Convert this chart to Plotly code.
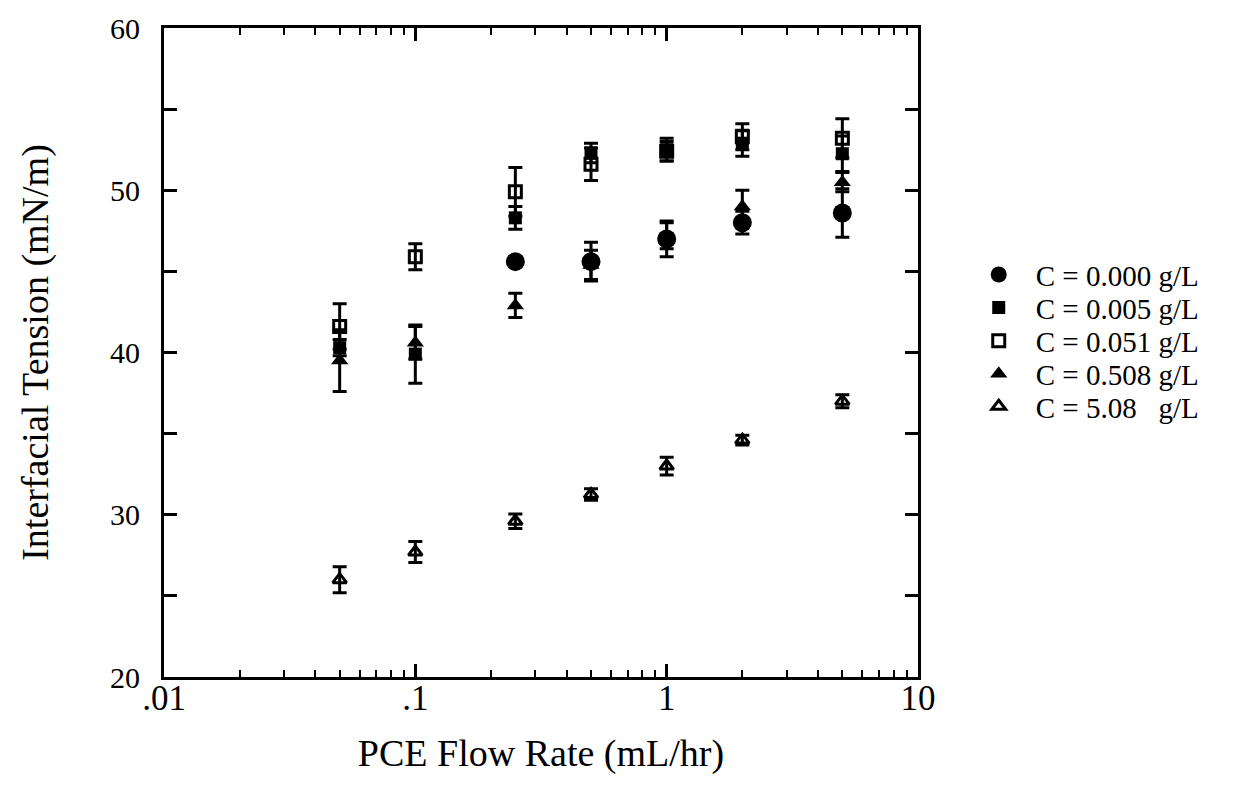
import plotly.graph_objects as go

# PCE flow rate (mL/hr)
flow = [0.05, 0.1, 0.25, 0.5, 1, 2, 5]
flow_c000 = [0.25, 0.5, 1, 2, 5]

# Interfacial tension (mN/m) and error (+/-)
it_c000 = [45.6, 45.6, 47.0, 48.0, 48.6]
err_c000 = [0.3, 1.2, 1.1, 0.7, 1.5]

it_c005 = [40.3, 39.9, 48.3, 52.3, 52.5, 52.9, 52.25]
err_c005 = [0.5, 1.8, 0.7, 0.6, 0.7, 0.8, 1.1]

it_c051 = [41.6, 45.9, 49.9, 51.6, 52.4, 53.3, 53.2]
err_c051 = [1.4, 0.8, 1.5, 1.0, 0.6, 0.8, 1.2]

it_c508 = [39.5, 40.6, 42.9, 45.4, 47.2, 49.0, 50.5]
err_c508 = [1.9, 1.0, 0.75, 0.9, 0.8, 1.0, 0.6]

it_c5080 = [26.0, 27.7, 29.6, 31.25, 33.0, 34.6, 37.0]
err_c5080 = [0.8, 0.65, 0.45, 0.35, 0.55, 0.3, 0.4]

labels = ["C = 0.000 g/L", "C = 0.005 g/L", "C = 0.051 g/L", "C = 0.508 g/L",
          "C = 5.08\u00a0\u00a0\u00a0g/L"]

x_tickvals = [0.01, 0.1, 1, 10]
x_ticktext = [".01", ".1", "1", "10"]
y_tickvals = [20, 30, 40, 50, 60]
y_ticktext = ["20", "30", "40", "50", "60"]

FONT = "Liberation Serif, Times New Roman, serif"


def err(vals):
    return dict(type="data", array=vals, visible=True, color="black",
                thickness=3, width=7)


fig = go.Figure()

fig.add_trace(go.Scatter(
    x=flow, y=it_c508, mode="markers", name=labels[3], legend="legend4",
    marker=dict(symbol="triangle-up", size=15, color="black"),
    error_y=err(err_c508)))

fig.add_trace(go.Scatter(
    x=flow, y=it_c005, mode="markers", name=labels[1], legend="legend2",
    marker=dict(symbol="square", size=13, color="black"),
    error_y=err(err_c005)))

fig.add_trace(go.Scatter(
    x=flow, y=it_c051, mode="markers", name=labels[2], legend="legend3",
    marker=dict(symbol="square-open", size=12, color="black",
                line=dict(width=3, color="black")),
    error_y=err(err_c051)))

fig.add_trace(go.Scatter(
    x=flow_c000, y=it_c000, mode="markers", name=labels[0], legend="legend",
    marker=dict(symbol="circle", size=19, color="black"),
    error_y=err(err_c000)))

fig.add_trace(go.Scatter(
    x=flow, y=it_c5080, mode="markers", name=labels[4], legend="legend5",
    marker=dict(symbol="triangle-up-open", size=12, color="black",
                line=dict(width=3, color="black")),
    error_y=err(err_c5080)))

minor_x = [m * 10 ** e for e in (-2, -1, 0) for m in range(2, 10)]

legend_rows_y = [0.620, 0.569, 0.518, 0.467, 0.417]
leg_common = dict(x=1.058, xanchor="left", yanchor="middle",
                  font=dict(family=FONT, size=29, color="black"),
                  bgcolor="rgba(0,0,0,0)", itemwidth=64, itemsizing="trace")

fig.update_layout(
    width=1237, height=803,
    paper_bgcolor="white", plot_bgcolor="white",
    margin=dict(l=156, r=327, t=20, b=134, autoexpand=False),
    font=dict(family=FONT, color="black", size=38),
    showlegend=True,
    legend=dict(y=legend_rows_y[0], **leg_common),
    legend2=dict(y=legend_rows_y[1], **leg_common),
    legend3=dict(y=legend_rows_y[2], **leg_common),
    legend4=dict(y=legend_rows_y[3], **leg_common),
    legend5=dict(y=legend_rows_y[4], **leg_common),
    xaxis=dict(
        type="log", range=[-2, 1], automargin=False,
        tickmode="array", tickvals=x_tickvals, ticktext=x_ticktext,
        ticks="inside", ticklen=13, tickwidth=2.5, tickcolor="black",
        showline=True, linewidth=3, linecolor="black", mirror="ticks",
        showgrid=False, zeroline=False, ticklabeloverflow="allow",
        ticklabelstandoff=-12,
        tickfont=dict(family=FONT, size=35),
        minor=dict(tickvals=minor_x, ticks="inside", ticklen=7,
                   tickwidth=2, tickcolor="black", showgrid=False),
        title=dict(text="PCE Flow Rate (mL/hr)", standoff=23,
                   font=dict(family=FONT, size=38)),
    ),
    yaxis=dict(
        range=[20, 60], automargin=False,
        tickmode="array", tickvals=y_tickvals, ticktext=y_ticktext,
        ticks="inside", ticklen=13, tickwidth=2.5, tickcolor="black",
        showline=True, linewidth=3, linecolor="black", mirror="ticks",
        showgrid=False, zeroline=False,
        ticklabelstandoff=15,
        tickfont=dict(family=FONT, size=30),
        minor=dict(dtick=5, ticks="inside", ticklen=13, tickwidth=2.5,
                   tickcolor="black", showgrid=False),
        title=dict(text="Interfacial Tension (mN/m)", standoff=50,
                   font=dict(family=FONT, size=38)),
    ),
)

fig.write_html("out.html")
